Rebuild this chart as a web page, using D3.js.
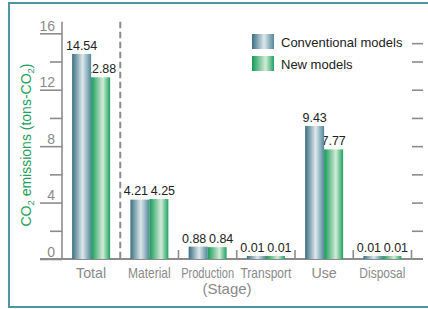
<!DOCTYPE html>
<html>
<head>
<meta charset="utf-8">
<script src="https://cdn.jsdelivr.net/npm/d3@7"></script>
<style>
body { margin: 0; background: #fff; }
text { font-family: "Liberation Sans", Arial, Helvetica, sans-serif; }
</style>
</head>
<body>
<div id="chart-area"></div>
<script>
// data
const stages = ["Total", "Material", "Production", "Transport", "Use", "Disposal"];
const conventional = [14.54, 4.21, 0.88, 0.01, 9.43, 0.01];
const newModels = [12.88, 4.25, 0.84, 0.01, 7.77, 0.01];
const seriesNames = ["Conventional models", "New models"];
const majorTicks = [0, 4, 8, 12, 16];
const minorTicks = [2, 6, 10, 14];
const rightTicks = [2, 4, 6, 8, 10, 12, 14, 15.3];

const WIDTH = 428, HEIGHT = 309;
const PLOT = { LEFT: 62, RIGHT: 411.5, TOP: 33.3, BOTTOM: 259 };
const AXIS_COLOR = "#8c8c8c";
const LABEL_COLOR = "#8a8a8a";

const svg = d3.select("#chart-area").append("svg")
    .attr("width", WIDTH)
    .attr("height", HEIGHT);

// gradients for the cylinder look
const defs = svg.append("defs");
const gradients = [
    { id: "grad-conv", stops: [["0%", "#3a6f81"], ["55%", "#dde7eb"], ["100%", "#52889a"]] },
    { id: "grad-new", stops: [["0%", "#159a58"], ["62%", "#d3ebd8"], ["100%", "#1ea262"]] }
];
gradients.forEach(g => {
    const lg = defs.append("linearGradient")
        .attr("id", g.id)
        .attr("x1", "0").attr("x2", "1").attr("y1", "0").attr("y2", "0");
    g.stops.forEach(s => lg.append("stop").attr("offset", s[0]).attr("stop-color", s[1]));
});
const fills = ["url(#grad-conv)", "url(#grad-new)"];

// frame
svg.append("rect")
    .attr("x", 9).attr("y", 3)
    .attr("width", 440).attr("height", 304)
    .attr("fill", "none")
    .attr("stroke", "#4e96a2")
    .attr("stroke-width", 2);

// scales
const y = d3.scaleLinear().domain([0, 16]).range([PLOT.BOTTOM, PLOT.TOP]);
const x = d3.scaleBand().domain(stages).range([PLOT.LEFT, PLOT.RIGHT]);
const BAR_W = 19;
const xs = d3.scaleBand().domain([0, 1]).range([0, BAR_W * 2]);
const pairOffset = (x.bandwidth() - BAR_W * 2) / 2;

// left axis line
svg.append("line")
    .attr("x1", PLOT.LEFT).attr("x2", PLOT.LEFT)
    .attr("y1", 21.7).attr("y2", PLOT.BOTTOM)
    .attr("stroke", AXIS_COLOR).attr("stroke-width", 1.6);

// major ticks with labels sitting on them
const yMajor = svg.append("g")
    .attr("transform", `translate(${PLOT.LEFT}, 0)`)
    .call(d3.axisLeft(y).tickValues(majorTicks).tickSize(22).tickFormat(d3.format("d")));
yMajor.select(".domain").remove();
yMajor.selectAll("line").attr("stroke", AXIS_COLOR).attr("stroke-width", 1.6);
yMajor.selectAll("text")
    .attr("x", -7).attr("y", -3).attr("dy", 0)
    .attr("fill", LABEL_COLOR)
    .attr("font-size", "14px")
    .style("font-family", "'Liberation Sans', Arial, sans-serif");

// minor ticks
const yMinor = svg.append("g")
    .attr("transform", `translate(${PLOT.LEFT}, 0)`)
    .call(d3.axisLeft(y).tickValues(minorTicks).tickSize(12).tickFormat(""));
yMinor.select(".domain").remove();
yMinor.selectAll("line").attr("stroke", AXIS_COLOR).attr("stroke-width", 1.6);

// right side ticks
const yRight = svg.append("g")
    .attr("transform", "translate(423, 0)")
    .call(d3.axisLeft(y).tickValues(rightTicks).tickSize(11).tickFormat(""));
yRight.select(".domain").remove();
yRight.selectAll("line").attr("stroke", AXIS_COLOR).attr("stroke-width", 1.6);

// baseline
svg.append("line")
    .attr("x1", 40).attr("x2", 423)
    .attr("y1", y(0)).attr("y2", y(0))
    .attr("stroke", AXIS_COLOR).attr("stroke-width", 2);

// dashed divider after Total
svg.append("line")
    .attr("x1", x(stages[1])).attr("x2", x(stages[1]))
    .attr("y1", 21.7).attr("y2", y(0))
    .attr("stroke", AXIS_COLOR).attr("stroke-width", 2)
    .attr("stroke-dasharray", "6.5,3.5");

// small separators between the other stages
stages.slice(2).concat(["end"]).forEach(s => {
    const sx = s === "end" ? PLOT.RIGHT : x(s);
    svg.append("line")
        .attr("x1", sx).attr("x2", sx)
        .attr("y1", y(0) - 9).attr("y2", y(0))
        .attr("stroke", AXIS_COLOR).attr("stroke-width", 1.6);
});

// value labels (drawn before bars so bars may cover them)
const labelsG = svg.append("g");
stages.forEach((s, i) => {
    const vals = [conventional[i], newModels[i]];
    const tops = vals.map(v => Math.min(y(v), y(0) - 3));
    const spread = Math.abs(tops[0] - tops[1]) < 12 ? 4 : 0;
    const hi = Math.min(tops[0], tops[1]);
    vals.forEach((v, k) => {
        const cx = x(s) + pairOffset + xs(k) + BAR_W / 2 + (k === 0 ? -spread : spread);
        labelsG.append("text")
            .attr("x", cx)
            .attr("y", (spread ? hi : tops[k]) - 4)
            .attr("text-anchor", "middle")
            .attr("font-size", "12.5px")
            .attr("fill", "#222")
            .text(d3.format(".2f")(v));
    });
});

// bars
const barsG = svg.append("g");
stages.forEach((s, i) => {
    [conventional[i], newModels[i]].forEach((v, k) => {
        const top = Math.min(y(v), y(0) - 3);
        barsG.append("rect")
            .attr("x", x(s) + pairOffset + xs(k))
            .attr("y", top)
            .attr("width", BAR_W)
            .attr("height", y(0) - top)
            .attr("fill", fills[k]);
    });
});

// category labels (long ones squeezed to fit the band)
stages.forEach(s => {
    const t = svg.append("text")
        .attr("x", x(s) + x.bandwidth() / 2)
        .attr("y", 278)
        .attr("text-anchor", "middle")
        .attr("font-size", "15px")
        .attr("fill", LABEL_COLOR)
        .text(s);
    const w = t.node().getComputedTextLength();
    const target = w > 45 ? Math.min(w * 0.8, 53) : w * 0.95;
    t.attr("textLength", target).attr("lengthAdjust", "spacingAndGlyphs");
});

svg.append("text")
    .attr("x", 227)
    .attr("y", 294)
    .attr("text-anchor", "middle")
    .attr("font-size", "15px")
    .attr("fill", LABEL_COLOR)
    .text("(Stage)");

// y axis title
const yTitle = svg.append("text")
    .attr("transform", "translate(31, 145) rotate(-90)")
    .attr("text-anchor", "middle")
    .attr("font-size", "14px")
    .attr("fill", "#23a05c");
yTitle.append("tspan").text("CO");
yTitle.append("tspan").attr("font-size", "9.5px").attr("dy", 3).text("2");
yTitle.append("tspan").attr("dy", -3).text(" emissions (tons-CO");
yTitle.append("tspan").attr("font-size", "9.5px").attr("dy", 3).text("2");
yTitle.append("tspan").attr("dy", -3).text(")");

// legend
const legend = svg.append("g").attr("transform", "translate(252, 34)");
seriesNames.forEach((name, i) => {
    const row = legend.append("g").attr("transform", `translate(0, ${i * 22})`);
    row.append("rect")
        .attr("width", 22)
        .attr("height", 15)
        .attr("fill", fills[i]);
    row.append("text")
        .attr("x", 29)
        .attr("y", 12.7)
        .attr("font-size", "13px")
        .attr("fill", "#222")
        .text(name);
});
</script>
</body>
</html>
